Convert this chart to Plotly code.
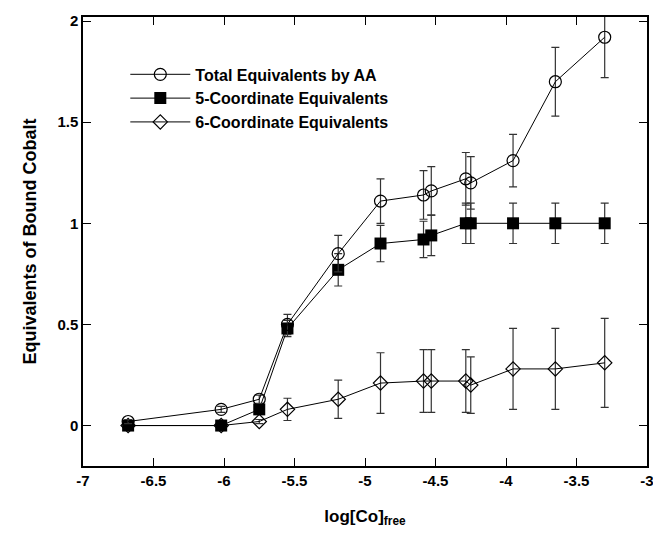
import plotly.graph_objects as go

x_vals = [-6.68, -6.02, -5.75, -5.55, -5.19, -4.89, -4.585, -4.53, -4.285, -4.25, -3.95, -3.65, -3.30]

total = [0.02, 0.08, 0.13, 0.50, 0.85, 1.11, 1.14, 1.16, 1.22, 1.20, 1.31, 1.70, 1.92]
total_err = [0.01, 0.015, 0.02, 0.05, 0.09, 0.11, 0.12, 0.12, 0.13, 0.13, 0.13, 0.17, 0.20]

five = [0.0, 0.0, 0.08, 0.48, 0.77, 0.90, 0.92, 0.94, 1.0, 1.0, 1.0, 1.0, 1.0]
five_err = [0.0, 0.0, 0.0, 0.04, 0.08, 0.09, 0.09, 0.10, 0.10, 0.10, 0.10, 0.10, 0.10]

six = [0.0, 0.0, 0.02, 0.08, 0.13, 0.21, 0.22, 0.22, 0.22, 0.20, 0.28, 0.28, 0.31]
six_err = [0.0, 0.0, 0.01, 0.055, 0.095, 0.15, 0.155, 0.155, 0.155, 0.14, 0.20, 0.20, 0.22]

x_ticks = [-7, -6.5, -6, -5.5, -5, -4.5, -4, -3.5, -3]
x_tick_labels = ["-7", "-6.5", "-6", "-5.5", "-5", "-4.5", "-4", "-3.5", "-3"]
y_ticks = [0, 0.5, 1, 1.5, 2]
y_tick_labels = ["0", "0.5", "1", "1.5", "2"]

font_family = "Liberation Sans, Arial, sans-serif"

fig = go.Figure()

fig.add_trace(go.Scatter(
    x=x_vals, y=six, mode="lines+markers", name="6-Coordinate Equivalents",
    line=dict(color="black", width=1),
    marker=dict(symbol="diamond-open", size=11, color="black", line=dict(width=1.2)),
    error_y=dict(type="data", array=six_err, color="#333333", thickness=1.2, width=4),
))
fig.add_trace(go.Scatter(
    x=x_vals, y=five, mode="lines+markers", name="5-Coordinate Equivalents",
    line=dict(color="black", width=1),
    marker=dict(symbol="square", size=12, color="black"),
    error_y=dict(type="data", array=five_err, color="#333333", thickness=1.2, width=4),
))
fig.add_trace(go.Scatter(
    x=x_vals, y=total, mode="lines+markers", name="Total Equivalents by AA",
    line=dict(color="black", width=1),
    marker=dict(symbol="circle-open", size=12, color="black", line=dict(width=1.2)),
    error_y=dict(type="data", array=total_err, color="#333333", thickness=1.2, width=4),
))

fig.update_layout(
    width=653, height=552,
    margin=dict(l=83, r=6, t=17, b=86),
    plot_bgcolor="white", paper_bgcolor="white",
    font=dict(family=font_family, color="black", size=15),
    showlegend=True,
    legend=dict(
        x=0.075, y=0.91, xanchor="left", yanchor="top",
        traceorder="reversed",
        font=dict(family=font_family, size=16, color="black", weight="bold"),
        bgcolor="rgba(0,0,0,0)", itemwidth=60,
        tracegroupgap=0,
    ),
    xaxis=dict(
        range=[-7, -3], tickvals=x_ticks, ticktext=x_tick_labels,
        ticklabeloverflow="allow", automargin=False,
        showline=True, linecolor="black", linewidth=1.5, mirror="ticks",
        ticks="inside", ticklen=8, tickcolor="black", tickwidth=1.2,
        showgrid=False, zeroline=False,
        tickfont=dict(family=font_family, size=15, weight="bold"),
        title=dict(text="log[Co]<sub>free</sub>",
                   font=dict(family=font_family, size=17, weight="bold"), standoff=22),
    ),
    yaxis=dict(
        range=[-0.2, 2.02], tickvals=y_ticks, ticktext=y_tick_labels,
        ticklabeloverflow="allow", automargin=False,
        showline=True, linecolor="black", linewidth=1.5, mirror="ticks",
        ticks="inside", ticklen=8, tickcolor="black", tickwidth=1.2,
        showgrid=False, zeroline=False,
        tickfont=dict(family=font_family, size=15, weight="bold"),
        title=dict(text="Equivalents of Bound Cobalt",
                   font=dict(family=font_family, size=18, weight="bold"), standoff=16),
    ),
)

fig.write_html("out.html")
